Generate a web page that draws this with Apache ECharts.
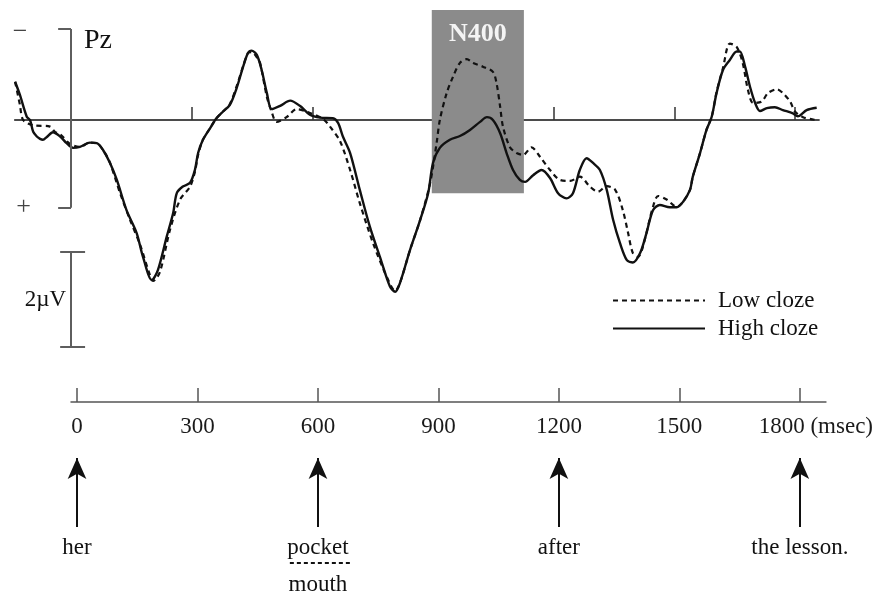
<!DOCTYPE html>
<html>
<head>
<meta charset="utf-8">
<script src="https://cdn.jsdelivr.net/npm/echarts@6/dist/echarts.min.js"></script>
<style>
html, body { margin: 0; background: #fff; }
#main { width: 876px; height: 597px; }
</style>
</head>
<body>
<div id="main"></div>
<script>
// Pz grand average, [time in ms, amplitude in µV], negative plotted up
var highCloze = [
	[-139,-0.81],[-127,-0.53],[-110,-0.07],[-102,0.00],[-94,0.25],[-85,0.35],[-77,0.40],[-70,0.42],
	[-60,0.36],[-45,0.26],[-27,0.35],[-11,0.49],[5,0.59],[22,0.57],[47,0.48],[64,0.49],[80,0.64],
	[97,0.91],[114,1.27],[138,1.91],[163,2.39],[179,2.90],[201,3.39],[216,3.18],[238,2.47],[254,1.97],
	[263,1.55],[278,1.41],[296,1.33],[308,1.06],[316,0.70],[328,0.42],[346,0.17],[362,-0.04],[378,-0.18],
	[395,-0.32],[412,-0.68],[428,-1.13],[440,-1.42],[449,-1.47],[462,-1.38],[474,-1.06],[487,-0.57],
	[499,-0.23],[520,-0.30],[545,-0.41],[569,-0.30],[594,-0.11],[619,-0.05],[651,-0.04],[664,0.06],
	[676,0.35],[694,0.70],[718,1.48],[743,2.26],[768,2.90],[793,3.53],[806,3.64],[818,3.45],[843,2.75],
	[868,2.12],[888,1.55],[900,0.91],[917,0.59],[942,0.42],[967,0.34],[992,0.21],[1017,0.04],[1034,-0.06],
	[1049,0.00],[1067,0.28],[1083,0.70],[1099,1.06],[1116,1.27],[1129,1.31],[1149,1.17],[1170,1.06],
	[1191,1.23],[1211,1.55],[1232,1.66],[1248,1.55],[1265,1.06],[1282,0.81],[1298,0.91],[1315,1.06],
	[1332,1.48],[1348,2.12],[1365,2.61],[1382,2.97],[1397,3.02],[1415,2.82],[1431,2.39],[1447,1.91],
	[1464,1.80],[1489,1.85],[1506,1.85],[1522,1.73],[1539,1.48],[1546,1.20],[1564,0.70],[1580,0.21],
	[1593,-0.07],[1605,-0.57],[1621,-1.06],[1638,-1.27],[1655,-1.45],[1663,-1.45],[1676,-1.13],[1688,-0.71],
	[1701,-0.36],[1713,-0.19],[1730,-0.25],[1750,-0.27],[1770,-0.21],[1795,-0.14],[1807,-0.08],[1829,-0.21],
	[1854,-0.26]
];
var lowCloze = [
	[-139,-0.81],[-127,-0.32],[-119,0.00],[-94,0.11],[-52,0.14],[-40,0.25],[-27,0.30],[-2,0.51],[22,0.57],
	[47,0.48],[64,0.49],[80,0.64],[97,0.91],[122,1.55],[147,2.12],[172,2.65],[196,3.28],[204,3.41],
	[221,3.22],[246,2.33],[271,1.69],[296,1.41],[308,1.10],[316,0.74],[328,0.42],[346,0.17],[362,-0.04],
	[378,-0.18],[395,-0.34],[412,-0.72],[428,-1.14],[440,-1.42],[449,-1.44],[462,-1.33],[470,-1.21],
	[487,-0.49],[499,-0.17],[511,0.04],[536,-0.06],[561,-0.23],[594,-0.15],[627,-0.02],[644,0.14],
	[669,0.45],[694,1.06],[718,1.76],[751,2.61],[785,3.32],[806,3.62],[818,3.45],[843,2.75],[868,2.12],
	[893,1.33],[909,0.49],[917,0.00],[934,-0.57],[950,-0.92],[967,-1.21],[984,-1.29],[1000,-1.21],
	[1024,-1.13],[1049,-1.02],[1058,-0.78],[1067,-0.28],[1074,0.14],[1091,0.57],[1108,0.70],[1124,0.74],
	[1145,0.58],[1166,0.78],[1191,1.06],[1216,1.27],[1241,1.29],[1265,1.20],[1290,1.41],[1310,1.52],
	[1332,1.40],[1353,1.48],[1372,1.91],[1385,2.39],[1397,2.82],[1410,2.90],[1422,2.68],[1447,1.84],
	[1460,1.61],[1482,1.69],[1506,1.84],[1522,1.73],[1539,1.48],[1546,1.20],[1564,0.70],[1580,0.21],
	[1593,-0.07],[1605,-0.59],[1621,-1.10],[1638,-1.62],[1655,-1.55],[1670,-1.21],[1683,-0.64],
	[1696,-0.36],[1717,-0.39],[1733,-0.57],[1755,-0.65],[1770,-0.57],[1788,-0.39],[1800,-0.18],
	[1820,-0.06],[1845,-0.01],[1857,0.00]
];
var tickValues = [0, 300, 600, 900, 1200, 1500, 1800];
var wordTimes = [0, 600, 1200, 1800];
var words = ['her', 'pocket', 'after', 'the lesson.'];
var n400Window = [897, 1126];   // ms
var n400Range = [-2.33, 1.55];  // µV
var bracket = [-1.93, 1.86];    // µV, the - / + frame
var scaleBar = [2.8, 4.8];      // 2 µV calibration bar

var serif = '"Liberation Serif", "Times New Roman", serif';
var ink = '#111';
var frameGray = '#5e5e5e';

var myChart = echarts.init(document.getElementById('main'));

// lower panel: y is pixels below the time axis
var arrowBase = 125, arrowTip = 56, wordY = 146, altWordY = 183, underlineY = 161;

var arrowLines = wordTimes.map(function (t) {
	return [
		{coord: [t, arrowBase], symbol: 'none'},
		{coord: [t, arrowTip], symbol: 'arrow', symbolSize: [14, 21]}
	];
});
arrowLines.push([
	{coord: [530, underlineY], symbol: 'none', lineStyle: {type: [4, 3], width: 2, color: ink}},
	{coord: [683, underlineY], symbol: 'none'}
]);

var wordData = wordTimes.map(function (t, i) {
	return {name: words[i], value: [t, wordY]};
});
wordData.push({name: 'mouth', value: [600, altWordY]});

var option = {
	animation: false,
	backgroundColor: '#fff',
	textStyle: {fontFamily: serif},
	legend: {
		data: ['Low cloze', 'High cloze'],
		orient: 'vertical',
		left: 612,
		top: 289,
		itemWidth: 92,
		itemHeight: 12,
		itemGap: 5,
		padding: 0,
		itemStyle: {opacity: 0},
		textStyle: {fontFamily: serif, fontSize: 23, color: ink, padding: [0, 0, 0, 8]}
	},
	grid: [
		{left: 14.7, top: 2, width: 804.4, height: 354},
		{left: 71, top: 402, width: 756.2, height: 195}
	],
	xAxis: [
		{
			gridIndex: 0, type: 'value', min: -140, max: 1860,
			splitLine: {show: false},
			axisLine: {onZero: true, lineStyle: {color: ink, width: 1.5}},
			axisTick: {inside: true, length: 13, customValues: tickValues.slice(1), lineStyle: {color: '#333', width: 1.5}},
			axisLabel: {show: false}
		},
		{
			gridIndex: 1, type: 'value', position: 'top', min: -15, max: 1865,
			splitLine: {show: false},
			axisLine: {onZero: false, lineStyle: {color: '#555', width: 1.5}},
			axisTick: {inside: false, length: 14, customValues: tickValues, lineStyle: {color: '#555', width: 1.5}},
			axisLabel: {
				inside: true, margin: 13, customValues: tickValues,
				fontSize: 23, color: '#1a1a1a', fontFamily: serif,
				formatter: function (v) {
					return v === 1800 ? '{u|1800 (msec)}' : String(v);
				},
				rich: {u: {fontSize: 23, color: '#1a1a1a', fontFamily: serif, padding: [0, 0, 0, 32]}}
			}
		}
	],
	yAxis: [
		{gridIndex: 0, type: 'value', inverse: true, min: -2.5, max: 5, show: false},
		{gridIndex: 1, type: 'value', inverse: true, min: 0, max: 195, show: false}
	],
	graphic: [
		{type: 'text', style: {x: 20, y: 32, text: '\u2212', align: 'center', verticalAlign: 'middle', font: '26px ' + serif, fill: '#444'}},
		{type: 'text', style: {x: 23.5, y: 207, text: '+', align: 'center', verticalAlign: 'middle', font: '26px ' + serif, fill: '#444'}},
		{type: 'text', style: {x: 84, y: 41, text: 'Pz', align: 'left', verticalAlign: 'middle', font: '28px ' + serif, fill: ink}},
		{type: 'text', style: {x: 66, y: 300, text: '2\u00b5V', align: 'right', verticalAlign: 'middle', font: '23px ' + serif, fill: ink}}
	],
	series: [
		{
			name: 'frame', type: 'line', data: [], z: 1, silent: true,
			xAxisIndex: 0, yAxisIndex: 0,
			markArea: {
				silent: true,
				itemStyle: {color: '#8b8b8b', opacity: 1},
				label: {show: true, position: 'insideTop', distance: 11, color: '#f4f4f4', fontSize: 26, fontWeight: 'bold', fontFamily: serif},
				data: [[{name: 'N400', coord: [n400Window[0], n400Range[0]]}, {coord: [n400Window[1], n400Range[1]]}]]
			},
			markLine: {
				silent: true, symbol: ['none', 'none'],
				label: {show: false},
				lineStyle: {color: frameGray, width: 2, type: 'solid'},
				data: [
					[{coord: [0, bracket[0]]}, {coord: [0, bracket[1]]}],
					[{coord: [-32, bracket[0]]}, {coord: [0, bracket[0]]}],
					[{coord: [-32, bracket[1]]}, {coord: [0, bracket[1]]}],
					[{coord: [0, scaleBar[0]]}, {coord: [0, scaleBar[1]]}],
					[{coord: [-27, scaleBar[0]]}, {coord: [35, scaleBar[0]]}],
					[{coord: [-27, scaleBar[1]]}, {coord: [35, scaleBar[1]]}]
				]
			}
		},
		{
			name: 'Low cloze', type: 'line', data: lowCloze, z: 3,
			xAxisIndex: 0, yAxisIndex: 0,
			symbol: 'none', smooth: 0.3,
			itemStyle: {color: ink},
			lineStyle: {color: ink, width: 2.2, type: [5, 4]}
		},
		{
			name: 'High cloze', type: 'line', data: highCloze, z: 4,
			xAxisIndex: 0, yAxisIndex: 0,
			symbol: 'none', smooth: 0.3,
			itemStyle: {color: ink},
			lineStyle: {color: ink, width: 2.4}
		},
		{
			name: 'words', type: 'scatter', data: wordData,
			xAxisIndex: 1, yAxisIndex: 1,
			symbolSize: 1, silent: true,
			itemStyle: {color: 'transparent'},
			label: {
				show: true, position: 'inside', formatter: '{b}', fontSize: 23,
				color: ink, opacity: 1, textBorderWidth: 0, fontFamily: serif
			},
			markLine: {
				silent: true,
				label: {show: false},
				lineStyle: {color: ink, width: 2, type: 'solid'},
				data: arrowLines
			}
		}
	]
};
myChart.setOption(option);
</script>
</body>
</html>
